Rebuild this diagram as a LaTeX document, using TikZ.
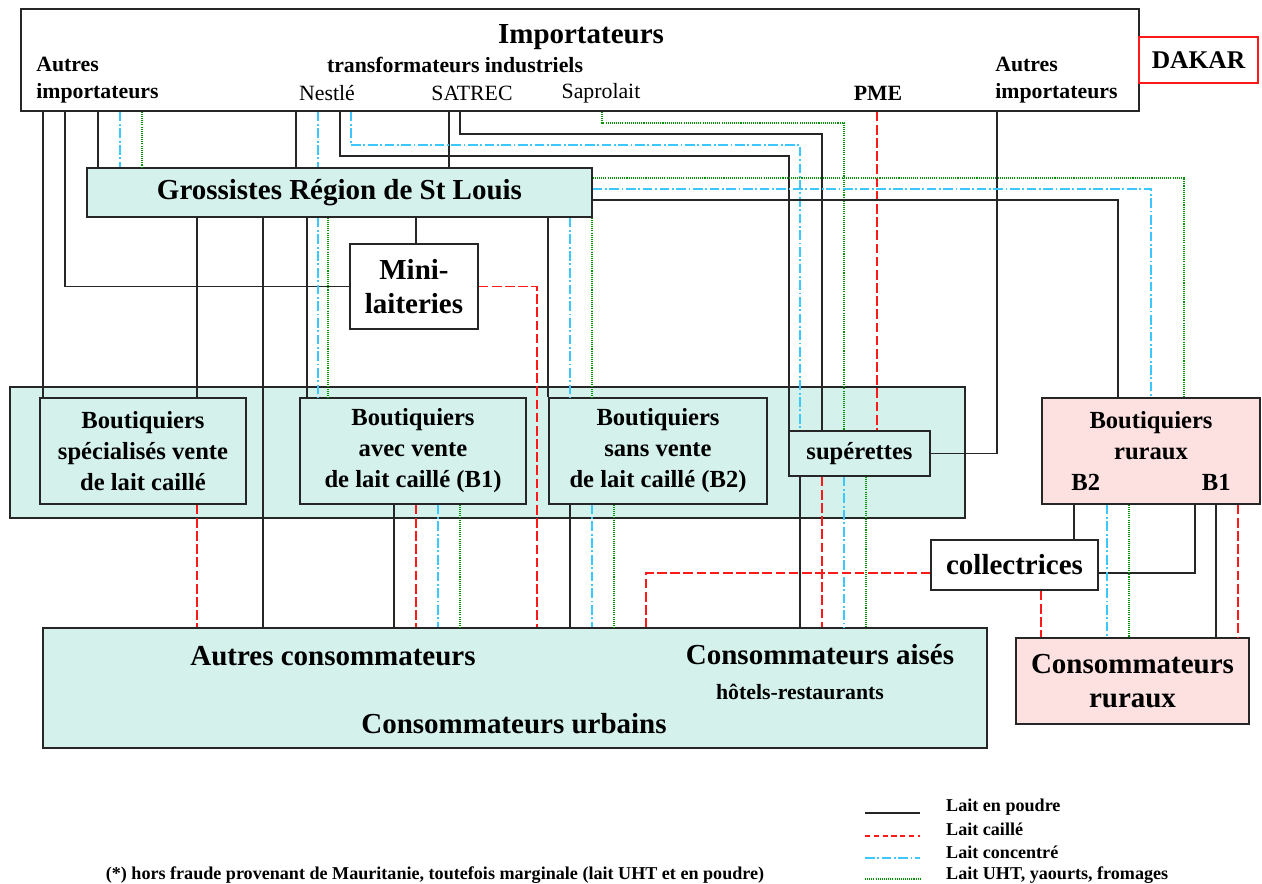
\documentclass[tikz,border=0pt]{standalone}
\usepackage{fontspec}
\setmainfont{Liberation Serif}
\usepackage{xcolor}
\definecolor{urbfond}{RGB}{212,242,235}
\definecolor{rurfond}{RGB}{253,224,224}
\definecolor{rouge}{RGB}{255,25,25}
\definecolor{bleu}{RGB}{60,200,255}
\definecolor{vert}{RGB}{0,150,0}

\begin{document}
\begin{tikzpicture}[line cap=butt,line join=miter,x=0.02cm,y=-0.02cm,
  boite/.style={draw=black!85, line width=0.9pt, inner sep=0pt, align=center},
  urb/.style={boite, fill=urbfond},
  rur/.style={boite, fill=rurfond},
  grand/.style={font=\bfseries\fontsize{16.5}{19.3}\selectfont},
  moyen/.style={font=\bfseries\fontsize{14}{17.6}\selectfont},
  petit/.style={font=\bfseries\fontsize{12.4}{15.3}\selectfont},
  mince/.style={font=\fontsize{12.4}{15.3}\selectfont},
  legende/.style={font=\bfseries\fontsize{10.3}{12}\selectfont},
  poudre/.style={black!85, line width=0.65pt},
  caille/.style={rouge, line width=0.8pt, dash pattern=on 5.5pt off 2pt},
  concentre/.style={bleu, line width=0.8pt, dash pattern=on 5.5pt off 1.5pt on 1pt off 1.5pt},
  uht/.style={vert, line width=0.6pt, dash pattern=on 0.6pt off 0.6pt}]
\useasboundingbox (0,0) rectangle (1262,884);

% colonnes et rangees des liaisons
\foreach \c in {43,65,98,120,142,197,263,296,307,318,328,340,351,394,416,438,449,460,537,548,570,592,602,614,646,789,800,822,844,866,877,997,1041,1074,1107,1118,1129,1151,1184,1195,1216,1238}
  \coordinate (x\c) at (\c,0);
\foreach \r in {123,134,145,156,178,189,200,573}
  \coordinate (y\r) at (0,\r);

% importateurs
\node [boite, fill=white, minimum width=22.36cm, minimum height=2.04cm] (imp) at (580,60) {};
\node [boite, draw=rouge, fill=white, font=\bfseries\fontsize{14.5}{17}\selectfont, minimum width=2.38cm, minimum height=0.92cm] (dakar) at (1198.5,60) {DAKAR};
\node [grand] (t_imp) at (581,37) {Importateurs};
\node [petit, anchor=west, align=left, inner sep=0pt] (t_autg) at (36,80) {Autres\\importateurs};
\node [petit] (t_transf) at (455,65) {transformateurs industriels};
\node [mince] (t_nestle) at (327,93) {Nestlé};
\node [mince] (t_satrec) at (472,93) {SATREC};
\node [mince] (t_saprolait) at (601,93) {Saprolait};
\node [petit] (t_pme) at (878,93) {PME};
\node [petit, anchor=west, align=left, inner sep=0pt] (t_autd) at (995,80) {Autres\\importateurs};

% grossistes et mini-laiteries
\node [urb, grand, minimum width=10.1cm, minimum height=0.98cm] (gros) at (339.5,192.5) {Grossistes Région de St Louis};
\node [boite, fill=white, font=\bfseries\fontsize{16.5}{19.5}\selectfont, minimum width=2.56cm, minimum height=1.7cm] (mini) at (414,286.5) {Mini-\\laiteries};

% boutiquiers urbains
\node [urb, minimum width=19.1cm, minimum height=2.62cm] (zone) at (487.5,452.5) {};
\node [urb, moyen, minimum width=4.12cm, minimum height=2.12cm] (bspec) at (143,451) {Boutiquiers\\spécialisés vente\\de lait caillé};
\node [urb, moyen, minimum width=4.52cm, minimum height=2.12cm] (bavec) at (413,451) {Boutiquiers\\avec vente\\de lait caillé (B1)};
\node [urb, moyen, minimum width=4.36cm, minimum height=2.12cm] (bsans) at (658,451) {Boutiquiers\\sans vente\\de lait caillé (B2)};
\node [urb, moyen, minimum width=2.82cm, minimum height=0.9cm] (super) at (859.5,453.5) {supérettes};

% monde rural
\node [rur, moyen, minimum width=4.36cm, minimum height=2.12cm] (brur) at (1151,451) {Boutiquiers\\ruraux\\B2\hspace{58pt}B1};
\node [boite, fill=white, grand, minimum width=3.34cm, minimum height=1cm] (coll) at (1014.5,565) {collectrices};
\node [rur, font=\bfseries\fontsize{16.5}{19.3}\selectfont, minimum width=4.66cm, minimum height=1.72cm] (crur) at (1132.5,681) {Consommateurs\\ruraux};

% consommateurs urbains
\node [urb, minimum width=18.88cm, minimum height=2.4cm] (curb) at (515,688) {};
\node [grand] (t_autres) at (333,656) {Autres consommateurs};
\node [grand] (t_aises) at (820,655) {Consommateurs aisés};
\node [petit] (t_hotels) at (800,692) {hôtels-restaurants};
\node [grand] (t_urbains) at (514,724) {Consommateurs urbains};

% depuis les importateurs
\draw [poudre] (imp.south -| x43) -- (bspec.north -| x43);
\draw [poudre] (imp.south -| x65) |- (mini.west);
\draw [poudre] (imp.south -| x98) -- (gros.north -| x98);
\draw [concentre] (imp.south -| x120) -- (gros.north -| x120);
\draw [uht] (imp.south -| x142) -- (gros.north -| x142);
\draw [poudre] (imp.south -| x296) -- (gros.north -| x296);
\draw [concentre] (imp.south -| x318) -- (gros.north -| x318);
\draw [poudre] (imp.south -| x449) -- (gros.north -| x449);
\draw [poudre] (imp.south -| x340) |- (y156 -| x789) -- (super.north -| x789);
\draw [concentre] (imp.south -| x351) |- (y145 -| x800) -- (super.north -| x800);
\draw [poudre] (imp.south -| x460) |- (y134 -| x822) -- (super.north -| x822);
\draw [uht] (imp.south -| x602) |- (y123 -| x844) -- (super.north -| x844);
\draw [caille] (imp.south -| x877) -- (super.north -| x877);
\draw [poudre] (imp.south -| x997) |- (super.east);

% depuis les grossistes
\draw [uht] (gros.east |- y178) -| (brur.north -| x1184);
\draw [concentre] (gros.east |- y189) -| (brur.north -| x1151);
\draw [poudre] (gros.east |- y200) -| (brur.north -| x1118);
\draw [poudre] (gros.south -| x197) -- (bspec.north -| x197);
\draw [poudre] (gros.south -| x263) -- (curb.north -| x263);
\draw [poudre] (gros.south -| x307) -- (bavec.north -| x307);
\draw [concentre] (gros.south -| x318) -- (bavec.north -| x318);
\draw [uht] (gros.south -| x328) -- (bavec.north -| x328);
\draw [poudre] (gros.south -| x416) -- (mini.north -| x416);
\draw [poudre] (gros.south -| x548) -- (bsans.north -| x548);
\draw [concentre] (gros.south -| x570) -- (bsans.north -| x570);
\draw [uht] (gros.south -| x592) -- (bsans.north -| x592);

% vers les consommateurs urbains
\draw [caille] (mini.east) -| (curb.north -| x537);
\draw [caille] (bspec.south -| x197) -- (curb.north -| x197);
\draw [poudre] (bavec.south -| x394) -- (curb.north -| x394);
\draw [caille] (bavec.south -| x416) -- (curb.north -| x416);
\draw [concentre] (bavec.south -| x438) -- (curb.north -| x438);
\draw [uht] (bavec.south -| x460) -- (curb.north -| x460);
\draw [poudre] (bsans.south -| x570) -- (curb.north -| x570);
\draw [concentre] (bsans.south -| x592) -- (curb.north -| x592);
\draw [uht] (bsans.south -| x614) -- (curb.north -| x614);
\draw [poudre] (super.south -| x800) -- (curb.north -| x800);
\draw [caille] (super.south -| x822) -- (curb.north -| x822);
\draw [concentre] (super.south -| x844) -- (curb.north -| x844);
\draw [uht] (super.south -| x866) -- (curb.north -| x866);
\draw [caille] (coll.west |- y573) -| (curb.north -| x646);

% circuit rural
\draw [poudre] (brur.south -| x1074) -- (coll.north -| x1074);
\draw [poudre] (brur.south -| x1195) |- (coll.east |- y573);
\draw [concentre] (brur.south -| x1107) -- (crur.north -| x1107);
\draw [uht] (brur.south -| x1129) -- (crur.north -| x1129);
\draw [poudre] (brur.south -| x1216) -- (crur.north -| x1216);
\draw [caille] (brur.south -| x1238) -- (crur.north -| x1238);
\draw [caille] (coll.south -| x1041) -- (crur.north -| x1041);

% legende
\coordinate (l1a) at (865,813); \coordinate (l1b) at (920,813);
\coordinate (l2a) at (865,836); \coordinate (l2b) at (920,836);
\coordinate (l3a) at (865,858); \coordinate (l3b) at (920,858);
\coordinate (l4a) at (865,879); \coordinate (l4b) at (920,879);
\draw [poudre, line width=1.2pt] (l1a) -- (l1b);
\draw [caille, line width=1pt, dash pattern=on 3pt off 2pt] (l2a) -- (l2b);
\draw [concentre, line width=1pt] (l3a) -- (l3b);
\draw [uht, line width=0.8pt] (l4a) -- (l4b);
\node [legende, anchor=west] (lg1) at (940,807) {Lait en poudre};
\node [legende, anchor=west] (lg2) at (940,829) {Lait caillé};
\node [legende, anchor=west] (lg3) at (940,852) {Lait concentré};
\node [legende, anchor=west] (lg4) at (940,875) {Lait UHT, yaourts, fromages};
\node [legende] (note) at (435,875) {(*) hors fraude provenant de Mauritanie, toutefois marginale (lait UHT et en poudre)};

\end{tikzpicture}
\end{document}
